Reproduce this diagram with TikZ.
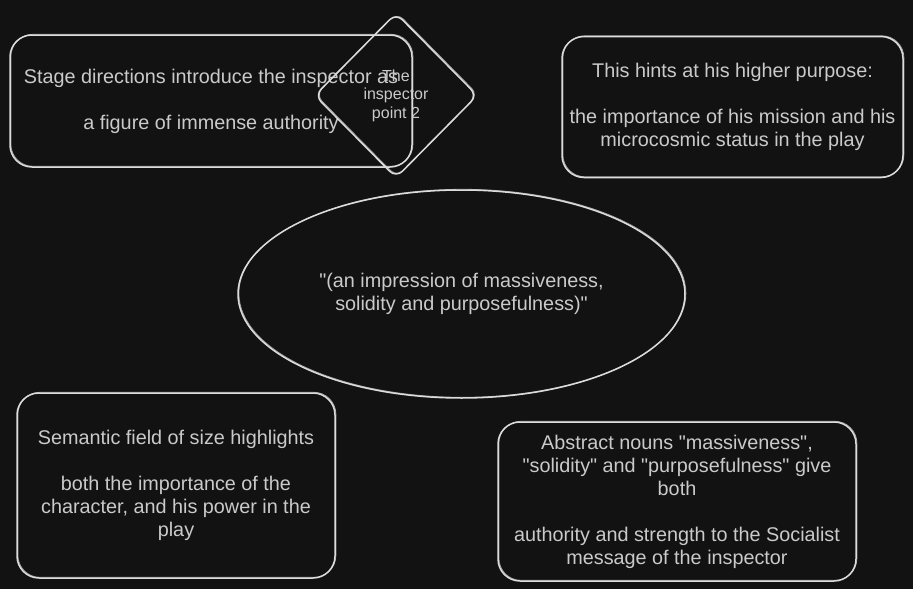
\documentclass[tikz,border=0pt]{standalone}
\usepackage{fontspec}
\setmainfont{Liberation Sans}[Ligatures=TeXOff]
\usetikzlibrary{shapes.geometric}
\definecolor{bgc}{HTML}{121212}
\definecolor{linec}{HTML}{DCDCDC}
\definecolor{txtc}{HTML}{CACACA}
\newcommand\dq{\symbol{34}}
\tikzset{
  sketchline/.style={draw=linec, line width=1.5pt,
    postaction={draw=linec, line width=0.8pt, opacity=0.7, transform canvas={xshift=0.9pt,yshift=0.7pt}}},
  boxnode/.style={sketchline, rectangle, rounded corners=22pt, inner sep=0pt, align=center,
    text=txtc, font=\fontsize{19.8}{23}\selectfont},
  ellnode/.style={sketchline, ellipse, inner sep=0pt, align=center,
    text=txtc, font=\fontsize{19.8}{23}\selectfont},
  dianode/.style={sketchline, diamond, rounded corners=9pt, inner sep=0pt, align=center,
    text=txtc, font=\fontsize{16}{18.5}\selectfont},
}
\begin{document}
\begin{tikzpicture}[x=1pt,y=-1pt]
\fill[bgc] (0,0) rectangle (913,589);
\useasboundingbox (0,0) rectangle (913,589);
\node[boxnode, minimum width=402pt, minimum height=132pt] (stage) at (211,101)
  {Stage directions introduce the inspector as\\ \strut\\ a figure of immense authority};
\node[dianode, minimum width=163pt, minimum height=165pt] (insp) at (396,95.5)
  {The\\ inspector\\ point 2};
\node[boxnode, minimum width=341pt, minimum height=141pt] (hints) at (732.5,107)
  {This hints at his higher purpose:\\ \strut\\ the importance of his mission and his\\ microcosmic status in the play};
\node[ellnode, minimum width=447pt, minimum height=208pt] (quote) at (461.5,294)
  {\dq(an impression of massiveness,\\ solidity and purposefulness)\dq};
\node[boxnode, minimum width=318pt, minimum height=185pt] (sem) at (176,485.5)
  {Semantic field of size highlights\\ \strut\\ both the importance of the\\ character, and his power in the\\ play};
\node[boxnode, minimum width=358pt, minimum height=159pt] (abs) at (677,501.5)
  {Abstract nouns \dq massiveness\dq,\\ \dq solidity\dq{} and \dq purposefulness\dq{} give\\ both\\ \strut\\ authority and strength to the Socialist\\ message of the inspector};
\end{tikzpicture}
\end{document}
